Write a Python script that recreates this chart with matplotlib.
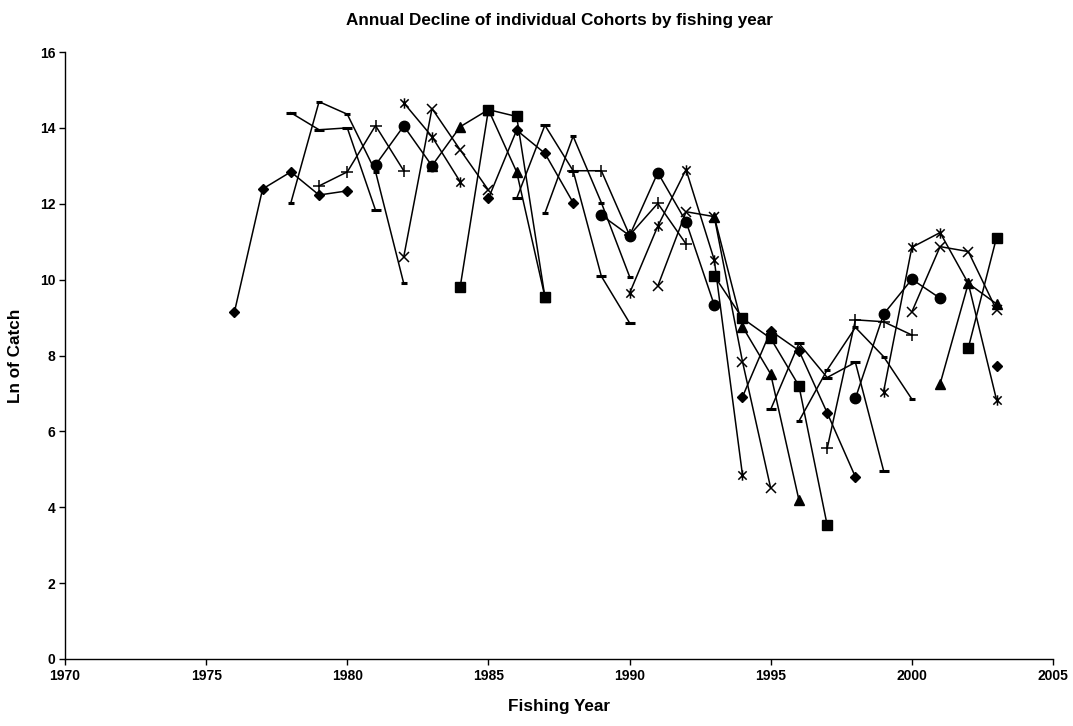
import matplotlib
matplotlib.use('Agg')
import matplotlib.pyplot as plt
from matplotlib.path import Path

plt.rcParams['font.family'] = ['Liberation Sans', 'DejaVu Sans']
plt.rcParams['font.weight'] = 'bold'

# cohort data: first fishing year and Ln of catch in consecutive years
c1976_start, c1976 = 1976, [9.14, 12.39, 12.84, 12.23, 12.34]
c1977_start, c1977 = 1978, [14.4, 13.95, 14.0, 11.83]
c1978_start, c1978 = 1978, [12.02, 14.69, 14.36, 12.85, 9.9]
c1979_start, c1979 = 1979, [12.47, 12.84, 14.06, 12.87]
c1980_start, c1980 = 1981, [13.02, 14.05, 13.0]
c1981_start, c1981 = 1982, [14.66, 13.77, 12.58]
c1982_start, c1982 = 1982, [10.6, 14.51, 13.42, 12.36]
c1983_start, c1983 = 1983, [13.0, 14.03, 14.48, 12.84, 9.55]
c1984_start, c1984 = 1984, [9.81, 14.48, 14.3, 9.55]
c1985_start, c1985 = 1985, [12.14, 13.94, 13.33, 12.03]
c1986_start, c1986 = 1986, [12.14, 14.07, 12.87, 10.09, 8.86]
c1987_start, c1987 = 1987, [11.75, 13.78, 12.03, 10.08]
c1988_start, c1988 = 1988, [12.87, 12.87, 11.17, 12.01, 10.94]
c1989_start, c1989 = 1989, [11.7, 11.16, 12.82, 11.53, 9.33]
c1990_start, c1990 = 1990, [9.64, 11.41, 12.9, 10.52, 4.85]
c1991_start, c1991 = 1991, [9.83, 11.79, 11.66, 7.84, 4.5]
c1992_start, c1992 = 1993, [11.66, 8.76, 7.51, 4.19]
c1993_start, c1993 = 1993, [10.1, 8.98, 8.45, 7.2, 3.53]
c1994_start, c1994 = 1994, [6.91, 8.65, 8.13, 6.49, 4.8]
c1995_start, c1995 = 1995, [6.58, 8.32, 7.42, 7.82, 4.96]
c1996_start, c1996 = 1996, [6.27, 7.62, 8.74, 7.97, 6.85]
c1997_start, c1997 = 1997, [5.55, 8.94, 8.89, 8.54]
c1998_start, c1998 = 1998, [6.87, 9.09, 10.01, 9.51]
c1999_start, c1999 = 1999, [7.05, 10.85, 11.24, 9.9, 6.83]
c2000_start, c2000 = 2000, [9.15, 10.87, 10.74, 9.2]
c2001_start, c2001 = 2001, [7.25, 9.9, 9.36]
c2002_start, c2002 = 2002, [8.2, 11.11]
c2003_start, c2003 = 2003, [7.72]

# excel style star marker: x with a vertical bar
star = Path([(-1, -1), (1, 1), (-1, 1), (1, -1), (0, -1.25), (0, 1.25)],
            [Path.MOVETO, Path.LINETO, Path.MOVETO, Path.LINETO, Path.MOVETO, Path.LINETO])

mk = {
    'diamond': dict(marker='D', ms=5.5, zorder=3),
    'square': dict(marker='s', ms=7, zorder=4),
    'triangle': dict(marker='^', ms=7, zorder=2),
    'x': dict(marker='x', ms=7, mew=1.1, zorder=3),
    'star': dict(marker=star, ms=7.5, mew=1.1, zorder=3),
    'circle': dict(marker='o', ms=7.5, zorder=4),
    'plus': dict(marker='+', ms=8, mew=1.1, zorder=3),
    'longdash': dict(marker='_', ms=7.5, mew=2.2, zorder=3),
    'shortdash': dict(marker='_', ms=5, mew=2.2, zorder=3),
}

cohorts = [
    (c1976_start, c1976, 'diamond'),
    (c1977_start, c1977, 'longdash'),
    (c1978_start, c1978, 'shortdash'),
    (c1979_start, c1979, 'plus'),
    (c1980_start, c1980, 'circle'),
    (c1981_start, c1981, 'star'),
    (c1982_start, c1982, 'x'),
    (c1983_start, c1983, 'triangle'),
    (c1984_start, c1984, 'square'),
    (c1985_start, c1985, 'diamond'),
    (c1986_start, c1986, 'longdash'),
    (c1987_start, c1987, 'shortdash'),
    (c1988_start, c1988, 'plus'),
    (c1989_start, c1989, 'circle'),
    (c1990_start, c1990, 'star'),
    (c1991_start, c1991, 'x'),
    (c1992_start, c1992, 'triangle'),
    (c1993_start, c1993, 'square'),
    (c1994_start, c1994, 'diamond'),
    (c1995_start, c1995, 'longdash'),
    (c1996_start, c1996, 'shortdash'),
    (c1997_start, c1997, 'plus'),
    (c1998_start, c1998, 'circle'),
    (c1999_start, c1999, 'star'),
    (c2000_start, c2000, 'x'),
    (c2001_start, c2001, 'triangle'),
    (c2002_start, c2002, 'square'),
    (c2003_start, c2003, 'diamond'),
]

fig = plt.figure(figsize=(10.73, 7.26), dpi=100)
ax = fig.add_axes([65/1073, 67/726, 988/1073, 607/726])

for start, vals, kind in cohorts:
    yrs = list(range(start, start + len(vals)))
    ax.plot(yrs, vals, color='black', lw=1.1, mfc='black', mec='black',
            clip_on=False, **mk[kind])

ax.set_xlim(1970, 2005)
ax.set_ylim(0, 16)
ax.set_xticks(range(1970, 2006, 5))
ax.set_yticks(range(0, 17, 2))
ax.spines['top'].set_visible(False)
ax.spines['right'].set_visible(False)
ax.spines['left'].set_linewidth(1)
ax.spines['bottom'].set_linewidth(1)
ax.tick_params(direction='out', length=4, width=1, labelsize=10, pad=3)

fig.text(0.521, 1 - 20/726, 'Annual Decline of individual Cohorts by fishing year',
         ha='center', va='center', fontsize=12.3, fontweight='bold')
fig.text(0.521, 1 - 706/726, 'Fishing Year', ha='center', va='center',
         fontsize=12.3, fontweight='bold')
fig.text(16/1073, 1 - 356/726, 'Ln of Catch', ha='center', va='center',
         rotation=90, fontsize=12.3, fontweight='bold')

plt.savefig('out.png', dpi=100)
